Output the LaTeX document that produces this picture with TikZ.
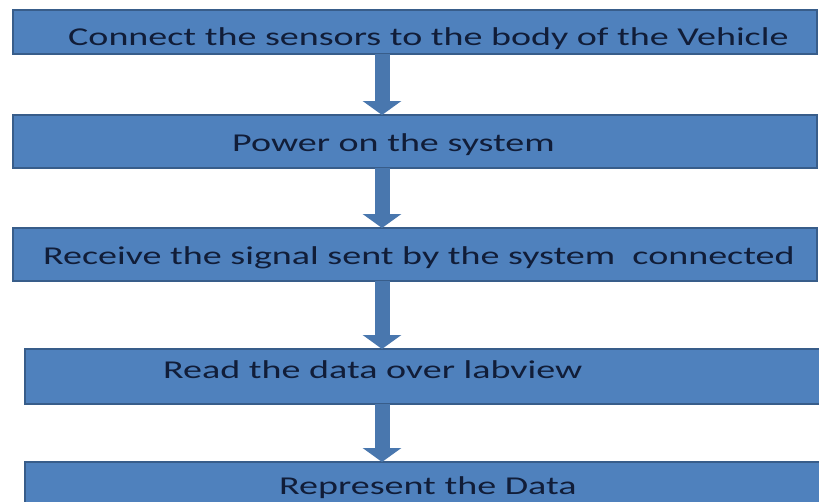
\documentclass[tikz,border=0pt]{standalone}
\usepackage{fontspec}
\setmainfont{Carlito}
\newfontfamily\boxfont[FakeStretch=1.48]{Carlito}
\usetikzlibrary{arrows.meta,calc,positioning}
\definecolor{boxblue}{HTML}{4F81BD}
\definecolor{boxedge}{HTML}{385D8A}
\definecolor{boxtext}{HTML}{111D38}
\tikzset{
  stepbox/.style={
    shape = rectangle,
    draw = boxedge,
    line width = 1.6pt,
    fill = boxblue,
    inner sep = 0pt,
    outer sep = 0pt
  },
  steptext/.style={
    anchor = base west,
    inner sep = 0pt,
    text = boxtext,
    font = \boxfont\fontsize{25.7}{31}\selectfont
  },
  flow/.style={
    draw = boxblue!92!black,
    line width = 15pt,
    -{Triangle[width=38pt,length=14pt]}
  },
}
\begin{document}
\begin{tikzpicture}[x=1pt,y=-1pt]
  \clip (0,0) rectangle (819,501);
  \fill[white] (0,0) rectangle (819,501);
  % the five steps
  \node[stepbox,minimum width=804pt,minimum height=44pt] (b1) at (415,32) {};
  \node[stepbox,minimum width=804pt,minimum height=53pt] (b2) at (415,141.5) {};
  \node[stepbox,minimum width=804pt,minimum height=53pt] (b3) at (415,254.5) {};
  \node[stepbox,minimum width=805pt,minimum height=55pt] (b4) at (427.5,376.5) {};
  \node[stepbox,minimum width=805pt,minimum height=58pt] (b5) at (427.5,491) {};
  \node[steptext] (t1) at (68,45) {Connect the sensors to the body of the Vehicle};
  \node[steptext] (t2) at (232,151) {Power on the system};
  \node[steptext] (t3) at (43,264) {Receive the signal sent by the system\ \ connected};
  \node[steptext] (t4) at (163,378) {Read the data over labview};
  \node[steptext] (t5) at (279,494) {Represent the Data};
  % arrows between them
  \coordinate (ax) at (382,0);
  \foreach \a/\b in {b1/b2,b2/b3,b3/b4,b4/b5}{
    \draw[flow] (\a.south -| ax) -- (\b.north -| ax);
  }
\end{tikzpicture}
\end{document}
